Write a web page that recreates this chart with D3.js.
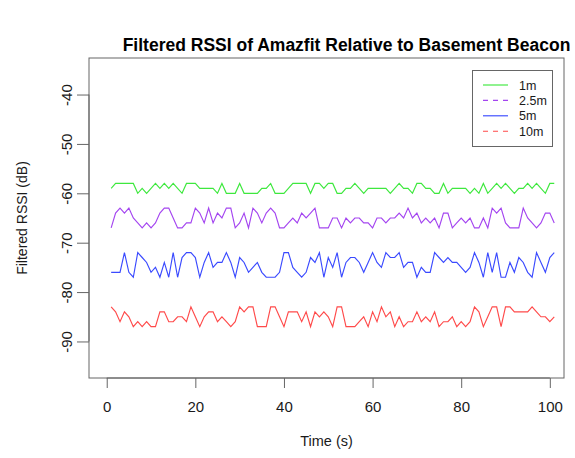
<!DOCTYPE html>
<html><head><meta charset="utf-8">
<script src="https://cdn.jsdelivr.net/npm/d3@7"></script>
<style>body{margin:0;background:#fff;} text{font-family:"Liberation Sans",Arial,sans-serif;}</style>
</head><body>
<svg id="c" width="575" height="458"></svg>
<script>
const seriesNames = ["1m", "2.5m", "5m", "10m"];
const seriesColors = ["#3ee83e", "#a445f0", "#3a4aff", "#ff4a4a"];
const legendDash = [null, "5,5", null, "5,5"];
const xTicks = [0, 20, 40, 60, 80, 100];
const yTicks = [-40, -50, -60, -70, -80, -90];
const times = d3.range(1, 102);
const rssi1m = [
 -59,-58,-58,-58,-58,-58,-60,-59,-60,-59,-58,-59,-58,-59,-58,-59,-60,-58,-58,-58,
 -59,-59,-59,-59,-60,-58,-60,-60,-60,-58,-60,-60,-60,-60,-59,-59,-58,-60,-60,-60,
 -59,-58,-58,-58,-58,-60,-58,-58,-59,-58,-58,-60,-60,-59,-59,-58,-59,-60,-59,-59,
 -59,-59,-59,-60,-59,-58,-59,-59,-60,-58,-58,-59,-59,-60,-60,-58,-60,-59,-59,-59,
 -59,-60,-59,-60,-58,-60,-59,-58,-59,-58,-59,-60,-59,-59,-58,-59,-58,-59,-60,-58,-58];
const rssi2_5m = [
 -67,-64,-63,-64,-63,-65,-66,-67,-66,-67,-66,-64,-63,-63,-65,-67,-67,-66,-66,-63,
 -64,-66,-63,-66,-64,-65,-63,-63,-67,-66,-64,-67,-63,-64,-66,-64,-63,-64,-67,-67,
 -66,-65,-66,-64,-65,-64,-63,-67,-67,-67,-65,-65,-67,-65,-66,-65,-65,-66,-66,-67,
 -65,-65,-66,-65,-65,-64,-65,-63,-65,-64,-66,-65,-66,-65,-67,-64,-64,-67,-66,-65,
 -66,-65,-67,-67,-65,-67,-63,-64,-63,-66,-67,-67,-67,-63,-65,-66,-67,-66,-64,-64,-66];
const rssi5m = [
 -76,-76,-76,-72,-76,-77,-72,-73,-74,-76,-75,-77,-74,-77,-72,-77,-73,-72,-72,-73,
 -77,-74,-72,-75,-74,-74,-72,-74,-77,-73,-74,-76,-75,-74,-76,-77,-77,-77,-76,-72,
 -72,-75,-76,-77,-76,-73,-74,-72,-77,-73,-75,-72,-77,-74,-73,-73,-74,-76,-74,-72,
 -74,-75,-72,-73,-73,-72,-75,-74,-74,-77,-75,-76,-76,-72,-73,-74,-73,-74,-74,-75,
 -76,-75,-72,-74,-77,-72,-76,-72,-77,-77,-74,-76,-73,-74,-76,-77,-72,-74,-76,-73,-72];
const rssi10m = [
 -83,-84,-86,-84,-85,-87,-86,-87,-86,-87,-87,-84,-84,-86,-86,-85,-85,-86,-83,-85,
 -87,-85,-84,-84,-86,-85,-86,-87,-86,-83,-84,-83,-83,-87,-87,-87,-83,-83,-85,-87,
 -84,-84,-84,-86,-84,-87,-84,-85,-84,-85,-87,-83,-83,-87,-87,-87,-86,-85,-87,-84,
 -86,-83,-85,-84,-87,-85,-87,-86,-86,-84,-86,-85,-86,-84,-87,-86,-86,-85,-87,-86,
 -87,-86,-83,-84,-87,-85,-83,-83,-87,-83,-83,-84,-84,-84,-84,-83,-84,-85,-85,-86,-85];
const allSeries = [rssi1m, rssi2_5m, rssi5m, rssi10m];

const svg = d3.select("#c");
const L = 89, R = 564, T = 58, B = 378;
const x = d3.scaleLinear().domain([-4, 103.2]).range([L, R]);
const y = d3.scaleLinear().domain([-97.4, -32.6]).range([B, T]);
const axisCol = "#666", textCol = "#1a1a1a";
const fmt = d => String(d);

// title
svg.append("text").attr("x", 346.5).attr("y", 51).attr("text-anchor", "middle")
  .attr("font-weight", "bold").attr("font-size", "17.5px").attr("fill", "#000")
  .text("Filtered RSSI of Amazfit Relative to Basement Beacon");

svg.append("clipPath").attr("id", "clip").append("rect")
  .attr("x", L).attr("y", T).attr("width", R - L).attr("height", B - T);

const line = d3.line().x((d, i) => x(times[i])).y(d => y(d));
const g = svg.append("g").attr("clip-path", "url(#clip)");
allSeries.forEach((s, k) => {
  g.append("path").datum(s).attr("d", line).attr("fill", "none")
    .attr("stroke", seriesColors[k]).attr("stroke-width", 1.15);
});

svg.append("rect").attr("x", L).attr("y", T).attr("width", R - L).attr("height", B - T)
  .attr("fill", "none").attr("stroke", axisCol).attr("stroke-width", 1);

// x axis
const xa = svg.append("g").attr("transform", `translate(0,${B})`)
  .call(d3.axisBottom(x).tickValues(xTicks).tickSize(10).tickPadding(13).tickFormat(fmt));
xa.select(".domain").attr("stroke", axisCol).attr("d", `M${x(0)},0H${x(100)}`);
xa.selectAll(".tick line").attr("stroke", axisCol);
xa.selectAll(".tick text").attr("font-size", "15px").attr("fill", textCol)
  .attr("font-family", "Liberation Sans, Arial, sans-serif");

// y axis
const ya = svg.append("g").attr("transform", `translate(${L},0)`)
  .call(d3.axisLeft(y).tickValues(yTicks).tickSize(12).tickFormat(fmt));
ya.select(".domain").attr("stroke", axisCol).attr("d", `M0,${y(-90)}V${y(-40)}`);
ya.selectAll(".tick line").attr("stroke", axisCol);
ya.selectAll(".tick text").attr("font-size", "15px").attr("fill", textCol)
  .attr("font-family", "Liberation Sans, Arial, sans-serif")
  .attr("x", null).attr("dy", null)
  .attr("text-anchor", "middle")
  .attr("transform", "translate(-22,0) rotate(-90)")
  .attr("y", 5);

svg.append("text").attr("x", (L + R) / 2).attr("y", 446).attr("text-anchor", "middle")
  .attr("font-size", "14.5px").attr("fill", textCol).text("Time (s)");
svg.append("text").attr("transform", `translate(27,${(T + B) / 2}) rotate(-90)`)
  .attr("text-anchor", "middle").attr("font-size", "14px").attr("fill", textCol)
  .text("Filtered RSSI (dB)");

// legend
const lg = svg.append("g");
lg.append("rect").attr("x", 472.5).attr("y", 70.5).attr("width", 80).attr("height", 76)
  .attr("fill", "#fff").attr("stroke", axisCol);
seriesNames.forEach((n, k) => {
  const yy = 85 + k * 15.4;
  lg.append("line").attr("x1", 483).attr("x2", 508).attr("y1", yy).attr("y2", yy)
    .attr("stroke", seriesColors[k]).attr("stroke-width", 1.15)
    .attr("stroke-dasharray", legendDash[k]);
  lg.append("text").attr("x", 519).attr("y", yy + 4.5).attr("font-size", "12.5px")
    .attr("fill", textCol).text(n);
});
</script>
</body></html>
